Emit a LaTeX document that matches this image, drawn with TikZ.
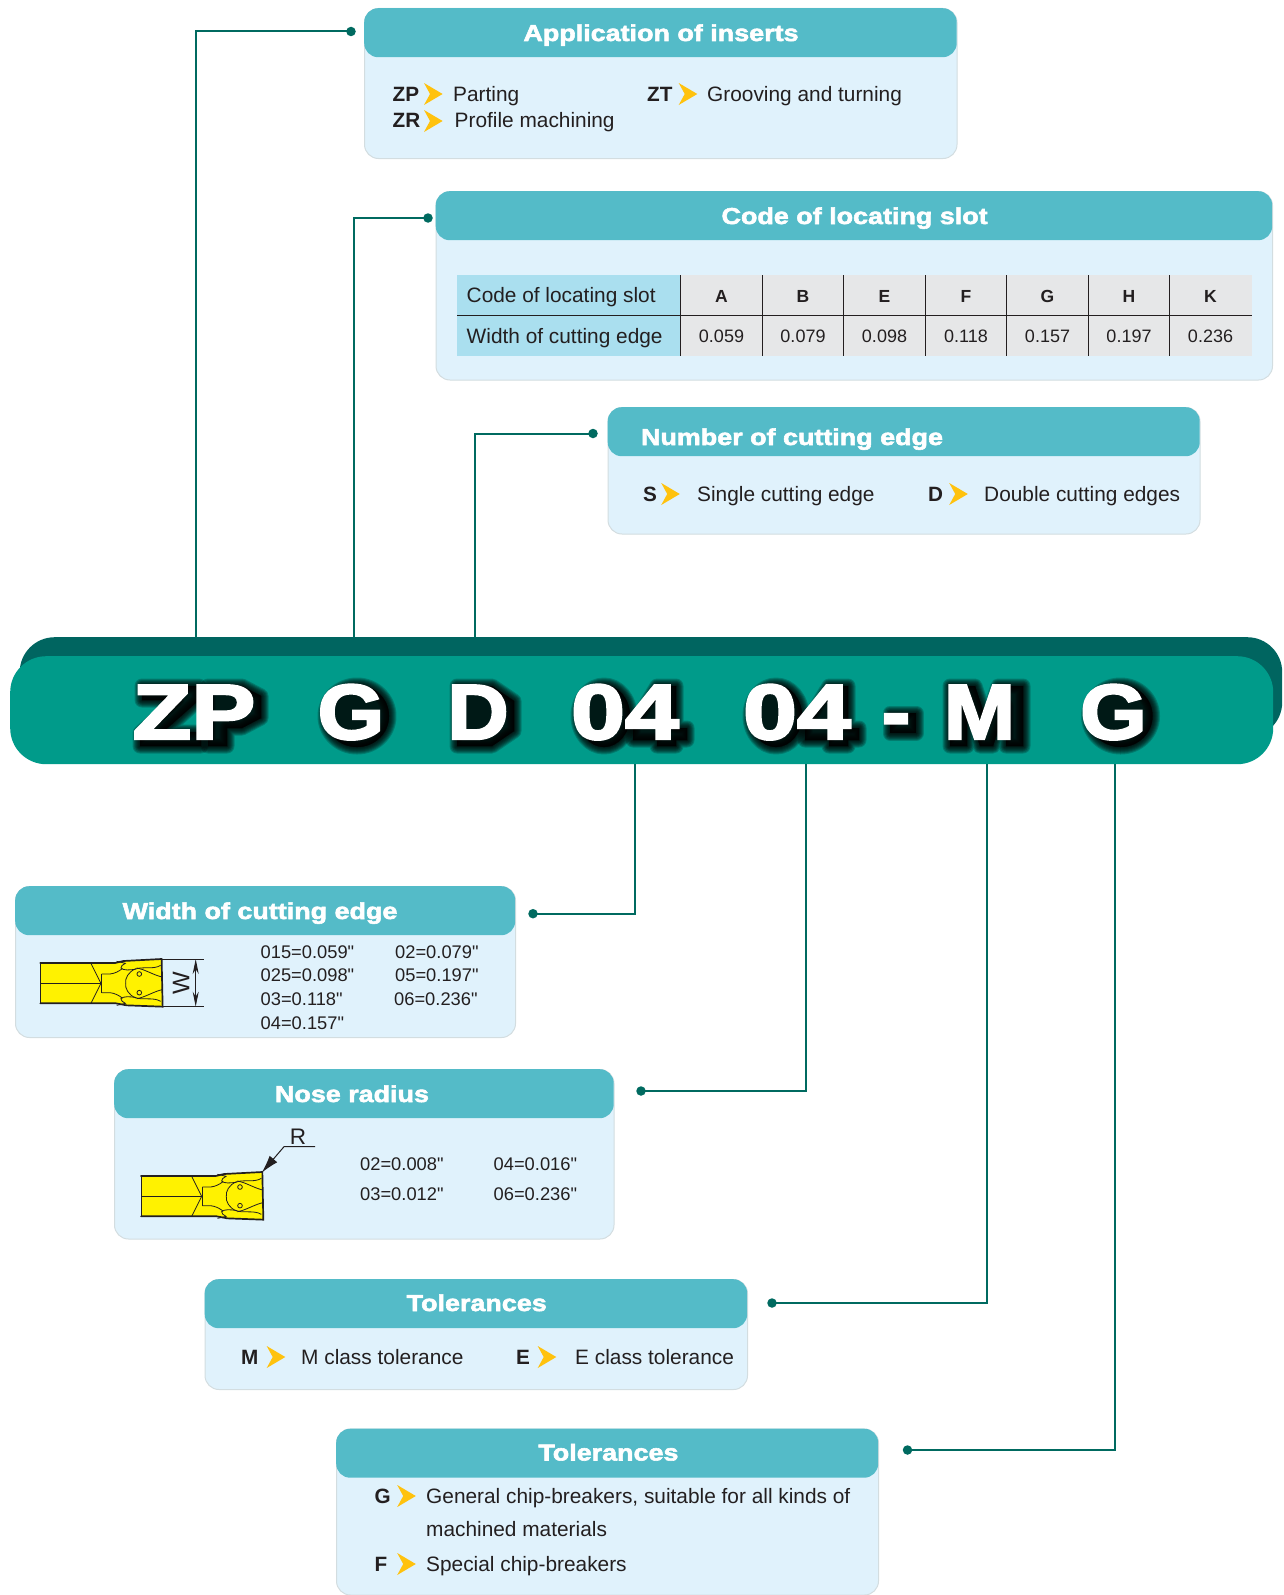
\documentclass[tikz,border=0pt]{standalone}
\usepackage{fontspec}
\setmainfont[Ligatures=TeXOff]{Liberation Sans}
\usetikzlibrary{arrows.meta}
\newfontfamily\titlef[FakeStretch=1.17,FakeBold=2.5]{Liberation Sans Bold}
\newfontfamily\bigf[FakeStretch=1.1,FakeBold=3]{Liberation Sans Bold}
\definecolor{headc}{HTML}{54BBC8}
\definecolor{panelc}{HTML}{E0F2FC}
\definecolor{edgec}{HTML}{D3DDE0}
\definecolor{barc}{HTML}{009B8A}
\definecolor{barbackc}{HTML}{006560}
\definecolor{connc}{HTML}{006A60}
\definecolor{cyanc}{HTML}{AADFEF}
\definecolor{greyc}{HTML}{E6E7E8}
\definecolor{toolc}{HTML}{FFF200}
\definecolor{chevc}{HTML}{FFC20E}
\definecolor{inkc}{HTML}{231F20}
\tikzset{
  panelbody/.style={draw=edgec,line width=1pt,fill=panelc,rounded corners=14pt,anchor=north west,inner sep=0pt},
  panelhead/.style={fill=headc,rounded corners=14pt,anchor=north west,inner sep=0pt},
  paneltitle/.style={anchor=base,text=white,font=\titlef\fontsize{23}{26}\selectfont,inner sep=0pt},
  txt/.style={anchor=base west,inner sep=0pt,text=inkc,font=\fontsize{20.85}{24}\selectfont},
  btxt/.style={txt,font=\bfseries\fontsize{20.7}{24}\selectfont},
  small/.style={txt,font=\fontsize{18.3}{22}\selectfont},
  cellnum/.style={anchor=base,inner sep=0pt,text=inkc,font=\fontsize{18}{22}\selectfont},
  cellhead/.style={anchor=base,inner sep=0pt,text=inkc,font=\bfseries\fontsize{17.5}{22}\selectfont},
  conn/.style={draw=connc,line width=2pt},
  enddot/.style={circle,fill=connc,minimum size=9.5pt,inner sep=0pt},
  rulec/.style={draw=inkc,line width=0.9pt},
  chev/.pic={\fill[chevc] (-9.3,-11)--(9.3,0)--(-9.3,11)--(-3.3,0)--cycle;},
  bigtxt/.style={anchor=base,inner sep=0pt,text=white,font=\bigf\fontsize{78}{90}\selectfont},
  toolout/.style={draw=inkc,line width=1.7pt,line cap=round},
  toolin/.style={draw=inkc,line width=0.8pt},
  dimline/.style={draw=inkc,line width=1pt},
}
% panel: name, x, y, w, h, title x, title baseline, title
\newcommand{\panel}[8]{%
  \node[panelbody,minimum width=#4pt,minimum height=#5pt] (#1) at (#2,#3) {};
  \node[panelhead,minimum width=#4pt,minimum height=49pt] (#1h) at (#2,#3) {};
  \node[paneltitle] (#1t) at (#6,#7) {#8};
}
% soft shadow of a letter shape
\newcommand{\softshadow}[1]{%
  \begin{scope}[shift={(7,6)}]
  \foreach \w in {15,13,11,9,7,5,3,1}{
    \draw[black,draw opacity=0.2,fill=black,fill opacity=0.2,line width=\w pt,line join=round] #1;
  }
  \end{scope}
}
\newcommand{\toolhalf}{%
  \draw[toolin] (275,282) -- (300,282) .. controls (315,280) and (325,275) .. (337,266);
  \draw[toolin] (320,244) .. controls (330,247) and (340,247) .. (346,250) .. controls (338,255) and (332,258) .. (333,264) .. controls (340,272) and (360,270) .. (375,268) .. controls (395,258) and (430,270) .. (452,256);
  \draw[toolin] (378,266) .. controls (355,275) and (345,295) .. (347,310);
  \draw[toolin] (380,264) .. controls (405,268) and (428,284) .. (456,291);
  \draw[toolin] (388,282) circle (7);
  \draw[toolin] (243,250) -- (273,310);
}
\newcommand{\toolshape}{%
  \fill[toolc] (91,249)--(315,249)--(340,243)--(455,237)--(458,380)--(350,376)--(318,370)--(91,370)--cycle;
  \draw[toolin] (91,249)--(91,370);
  \draw[toolin] (91,310)--(273,310);
  \draw[toolin] (275,282)--(275,340);
  \toolhalf
  \begin{scope}[shift={(0,620)},yscale=-1]\toolhalf\end{scope}
  \draw[toolout] (91,249)--(315,249)--(340,243)--(455,237)--(458,380)--(350,376)--(318,370)--(91,370);
}
\begin{document}
\begin{tikzpicture}[x=1pt,y=-1pt]
\useasboundingbox (0,0) rectangle (1283,1595);
% panels
\panel{p1}{364}{8}{592.5}{150}{661}{41}{Application of inserts}
\panel{p2}{435.5}{191}{836.5}{188.5}{854.6}{224}{Code of locating slot}
\panel{p3}{607.5}{407}{592}{126.5}{792}{445}{Number of cutting edge}
\panel{p4}{15}{886}{500}{151}{260}{919}{Width of cutting edge}
\panel{p5}{114}{1069}{499.5}{169.5}{352}{1102}{Nose radius}
\panel{p6}{204.5}{1279}{542.5}{110}{476.7}{1311}{Tolerances}
\panel{p7}{336}{1428.5}{542}{166}{608.4}{1460.5}{Tolerances}
% panel 1 text
\node[btxt] (z1) at (392.5,101.7) {ZP};
\pic at (433.3,94) {chev};
\node[txt] (t1) at (453,101.7) {Parting};
\node[btxt] (z2) at (392.5,127.7) {ZR};
\pic at (433.3,121) {chev};
\node[txt] (t2) at (454.5,127.7) {Profile machining};
\node[btxt] (z3) at (647,101.7) {ZT};
\pic at (688,94) {chev};
\node[txt] (t3) at (707,101.7) {Grooving and turning};
% table
\fill[cyanc] (457,275) rectangle (680.5,356);
\fill[greyc] (680.5,275) rectangle (1251.5,356);
\draw[rulec] (457,315) -- (1251.5,315);
\foreach \i in {0,...,6}{\draw[rulec] (680.5+81.5*\i,275) -- (680.5+81.5*\i,356);}
\node[txt] (tr1) at (466.5,302.7) {Code of locating slot};
\node[txt] (tr2) at (466.5,343) {Width of cutting edge};
\foreach \i/\a/\b in {0/A/0.059,1/B/0.079,2/E/0.098,3/F/0.118,4/G/0.157,5/H/0.197,6/K/0.236}{
  \node[cellhead] (ch\i) at (721.5+81.5*\i,302) {\a};
  \node[cellnum] (cn\i) at (721.5+81.5*\i,342) {\b};
}
% panel 3 text
\node[btxt] (s1) at (643,501) {S};
\pic at (670.5,494) {chev};
\node[txt] (s2) at (697,501) {Single cutting edge};
\node[btxt] (s3) at (928,501) {D};
\pic at (958.5,494) {chev};
\node[txt] (s4) at (984,501) {Double cutting edges};
% bar
\node[fill=barbackc,rounded corners=35pt,anchor=north west,inner sep=0pt,minimum width=1262.5pt,minimum height=100pt] (barback) at (19.5,637) {};
\node[fill=barc,rounded corners=36pt,anchor=north west,inner sep=0pt,minimum width=1263pt,minimum height=108pt] (bar) at (10,656) {};
\softshadow{(135,680)--(192,680)--(192,694)--(156,726)--(194,726)--(194,740)--(133,740)--(133,727)--(170,694)--(135,694)--cycle}
\softshadow{(201,680)--(235,680)--(254,690)--(254,712)--(235,722)--(220,722)--(220,740)--(201,740)--cycle}
\softshadow{(350,710) ellipse (32 and 31)}
\softshadow{(450,680)--(485,680)--(507,695)--(507,725)--(485,740)--(450,740)--cycle}
\softshadow{(597,710) ellipse (26 and 31)}
\softshadow{(650,680)--(669,680)--(669,722)--(680,722)--(680,734)--(669,734)--(669,740)--(650,740)--(650,734)--(626,734)--(626,720)--cycle}
\softshadow{(769,710) ellipse (26 and 31)}
\softshadow{(822,680)--(841,680)--(841,722)--(852,722)--(852,734)--(841,734)--(841,740)--(822,740)--(822,734)--(798,734)--(798,720)--cycle}
\softshadow{(883,707) rectangle (909,727)}
\softshadow{(943,680)--(968,680)--(979.5,715)--(991,680)--(1016,680)--(1016,740)--(999,740)--(999,700)--(986,740)--(973,740)--(960,700)--(960,740)--(943,740)--cycle}
\softshadow{(1113.5,710) ellipse (32 and 31)}
\node[bigtxt,xscale=1.12] (b1) at (194,739) {ZP};
\node[bigtxt,xscale=1.0] (b2) at (351,739) {G};
\node[bigtxt,xscale=0.99] (b3) at (478,739) {D};
\node[bigtxt,xscale=1.13] (b4) at (625,739) {04};
\node[bigtxt,xscale=1.13] (b5) at (797,739) {04};
\node[bigtxt] (b6) at (896,739) {-};
\node[bigtxt,xscale=1.0] (b7) at (979.5,739) {M};
\node[bigtxt,xscale=1.0] (b8) at (1113.5,739) {G};
% connectors
\coordinate (up1) at (196.4,638);
\coordinate (up2) at (354,638);
\coordinate (up3) at (475,638);
\coordinate (dn1) at (635,764);
\coordinate (dn2) at (806,764);
\coordinate (dn3) at (987,764);
\coordinate (dn4) at (1115,764);
\node[enddot] (d1) at (351,31.5) {};
\node[enddot] (d2) at (428,218) {};
\node[enddot] (d3) at (593,433.5) {};
\node[enddot] (d4) at (533,913.7) {};
\node[enddot] (d5) at (641,1091) {};
\node[enddot] (d6) at (772,1303) {};
\node[enddot] (d7) at (907.5,1450) {};
\draw[conn] (up1) |- (d1.center);
\draw[conn] (up2) |- (d2.center);
\draw[conn] (up3) |- (d3.center);
\draw[conn] (dn1) |- (d4.center);
\draw[conn] (dn2) |- (d5.center);
\draw[conn] (dn3) |- (d6.center);
\draw[conn] (dn4) |- (d7.center);
% width panel
\begin{scope}[shift={(40.3,963)},scale=1/3,shift={(-91,-249)}]
  \toolshape
\end{scope}
\draw[dimline] (162,959) -- (204,959);
\draw[dimline] (163,1006.7) -- (204,1006.7);
\draw[dimline,{Stealth[length=15pt,width=6pt]}-{Stealth[length=15pt,width=6pt]}] (195.7,959) -- (195.7,1006.7);
\node[inner sep=0pt,text=inkc,rotate=90,font=\fontsize{24}{26}\selectfont] (wl) at (181,983) {W};
\foreach \x/\y/\s/\n in {260.5/958/015=0.059"/a,395/958/02=0.079"/b,260.5/981/025=0.098"/c,395/981/05=0.197"/d,260.5/1005.5/03=0.118"/e,394/1005.5/06=0.236"/f,260.5/1029/04=0.157"/g}{
  \node[small] (w\n) at (\x,\y) {\s};
}
% nose panel
\begin{scope}[shift={(141,1176)},scale=1/3,shift={(-91,-249)}]
  \toolshape
\end{scope}
\node[anchor=base,inner sep=0pt,text=inkc,font=\fontsize{22.5}{24}\selectfont] (rl) at (298,1144) {R};
\coordinate (r1) at (315,1146.7);
\coordinate (r2) at (284,1146.7);
\coordinate (r3) at (261.7,1172.7);
\draw[dimline,-{Latex[length=18pt,width=10pt]}] (r1) -- (r2) -- (r3);
\foreach \x/\y/\s/\n in {360/1170.5/02=0.008"/a,493.5/1170.5/04=0.016"/b,360/1200/03=0.012"/c,493.5/1200/06=0.236"/d}{
  \node[small] (n\n) at (\x,\y) {\s};
}
% tolerances 1
\node[btxt] (m1) at (241,1364.5) {M};
\pic at (276,1357) {chev};
\node[txt] (m2) at (301,1364.5) {M class tolerance};
\node[btxt] (m3) at (516,1364.5) {E};
\pic at (547,1357) {chev};
\node[txt] (m4) at (575,1364.5) {E class tolerance};
% tolerances 2
\node[btxt] (g1) at (374.5,1503) {G};
\pic at (406.5,1496) {chev};
\node[txt] (g2) at (426,1503) {General chip-breakers, suitable for all kinds of};
\node[txt] (g3) at (426,1536.5) {machined materials};
\node[btxt] (g4) at (374.5,1571) {F};
\pic at (406.5,1564) {chev};
\node[txt] (g5) at (426,1571) {Special chip-breakers};
\end{tikzpicture}
\end{document}
